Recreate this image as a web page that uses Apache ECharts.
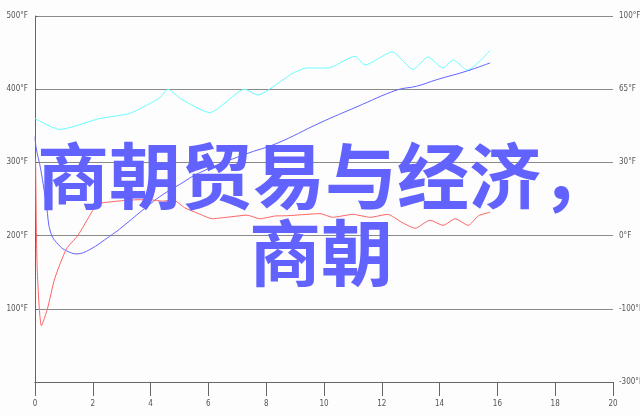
<!DOCTYPE html>
<html>
<head>
<meta charset="utf-8">
<script src="https://cdn.jsdelivr.net/npm/echarts@6/dist/echarts.min.js"></script>
<style>
html,body{margin:0;padding:0;background:#fdfdfd;}
#chart{width:640px;height:415px;}
</style>
</head>
<body>
<div id="chart"></div>
<script>
// ---- data ----
var xTickLabels = ['0','2','4','6','8','10','12','14','16','18','20'];
var leftTickLabels = ['', '100°F', '200°F', '300°F', '400°F', '500°F'];
var rightTickLabels = ['-300°F', '-100°F', '0°F', '30°F', '65°F', '100°F'];

var cyanX = [0, 0.85, 2.24, 3.28, 4.31, 4.59, 5.08, 6.05, 7.26, 7.71, 8.48, 8.93, 9.41, 10.14, 11.07, 11.42, 12.36, 13.08, 13.6, 14.12, 14.47, 14.96, 15.75];
var cyanY = [360, 345, 360, 367, 388, 400, 386, 368, 400, 392, 410, 422, 429, 429, 445, 433, 451, 427, 444, 429, 440, 426, 453];

var blueX = [0, 0.04, 0.2, 0.4, 0.55, 0.85, 1.1, 1.44, 1.9, 2.58, 2.93, 3.73, 4.31, 5.01, 5.7, 7.26, 8.37, 9.86, 11.14, 12.53, 13.2, 13.9, 14.96, 15.75];
var blueY = [335, 320, 290, 240, 203, 186, 179, 175, 181, 199, 209, 235, 253, 270, 286, 311, 326, 354, 376, 399, 404, 413, 425, 436];

var redX = [0.02, 0.05, 0.08, 0.15, 0.22, 0.43, 0.68, 1.09, 1.48, 1.96, 2.13, 2.6, 3.1, 3.6, 3.97, 4.42, 4.77, 5.18, 5.6, 6.15, 6.4, 6.85, 7.33, 7.78, 8.37, 8.58, 9.86, 10.3, 11.0, 11.6, 12.2, 12.7, 13.15, 13.67, 14.12, 14.54, 14.99, 15.34, 15.75];
var redY = [305, 200, 150, 100, 77, 100, 141, 182, 200, 232, 243, 246, 248, 249, 249, 247, 249, 238, 231, 223, 224, 226, 228, 223, 227, 227, 230, 225, 229, 225, 229, 218, 210, 221, 214, 223, 214, 227, 232];

var overlayLine1 = '商朝贸易与经济，';
var overlayLine2 = '商朝';

function zip(xs, ys) { return xs.map(function (x, i) { return [x, ys[i]]; }); }

var axisFont = '"Liberation Sans Narrow", "DejaVu Sans Condensed", sans-serif';
var bigFont = 'bold 72px "Noto Sans CJK SC", sans-serif';
var chart = echarts.init(document.getElementById('chart'));
chart.setOption({
  backgroundColor: '#fdfdfd',
  animation: false,
  grid: { left: 35, right: 27, top: 16, bottom: 33, containLabel: false, outerBoundsMode: 'none' },
  xAxis: [
    {
      type: 'value', min: 0, max: 20, interval: 2, position: 'bottom',
      axisLine: { show: true, lineStyle: { color: '#666', width: 1 } },
      axisTick: { show: true, length: 14, lineStyle: { color: '#666' } },
      axisLabel: {
        show: true, margin: 18, fontSize: 8, color: '#555', fontFamily: axisFont,
        formatter: function (v) { return xTickLabels[Math.round(v / 2)]; }
      },
      splitLine: { show: false }
    },
    {
      type: 'value', min: 0, max: 20, interval: 2, position: 'bottom', offset: 7,
      axisLine: { show: true, lineStyle: { color: '#666', width: 1 } },
      axisTick: { show: false }, axisLabel: { show: false }, splitLine: { show: false }
    }
  ],
  yAxis: [
    {
      type: 'value', min: 0, max: 500, interval: 100, position: 'left', offset: 4,
      axisLine: { show: true, lineStyle: { color: '#666', width: 1 } },
      axisTick: { show: false },
      axisLabel: {
        margin: 3, fontSize: 8, color: '#555', fontFamily: axisFont,
        formatter: function (v) { return leftTickLabels[Math.round(v / 100)]; }
      },
      splitLine: { show: true, lineStyle: { color: '#8a8a8a', width: 1 } }
    },
    {
      type: 'value', min: 0, max: 5, interval: 1, position: 'right',
      axisLine: { show: false },
      axisTick: { show: true, length: 3, lineStyle: { color: '#666' } },
      axisLabel: {
        margin: 6, fontSize: 8, color: '#555', fontFamily: axisFont,
        formatter: function (v) { return rightTickLabels[Math.round(v)]; }
      },
      splitLine: { show: false }
    }
  ],
  series: [
    { type: 'line', data: zip(cyanX, cyanY), showSymbol: false, smooth: 0.2,
      lineStyle: { color: '#66ffff', width: 1 }, z: 3 },
    { type: 'line', data: zip(blueX, blueY), showSymbol: false, smooth: 0.4,
      lineStyle: { color: '#6464ff', width: 1 }, z: 3 },
    { type: 'line', data: zip(redX, redY), showSymbol: false, smooth: 0.2,
      lineStyle: { color: '#ff6464', width: 1 }, z: 3 }
  ],
  graphic: [
    {
      type: 'text', x: 37, y: 140, z: 100,
      style: { text: overlayLine1, fill: '#6262ff', font: bigFont, lineHeight: 72,
        align: 'left', verticalAlign: 'top' }
    },
    {
      type: 'text', x: 249, y: 217, z: 100,
      style: { text: overlayLine2, fill: '#6262ff', font: bigFont, lineHeight: 72,
        align: 'left', verticalAlign: 'top' }
    }
  ]
});
</script>
</body>
</html>
